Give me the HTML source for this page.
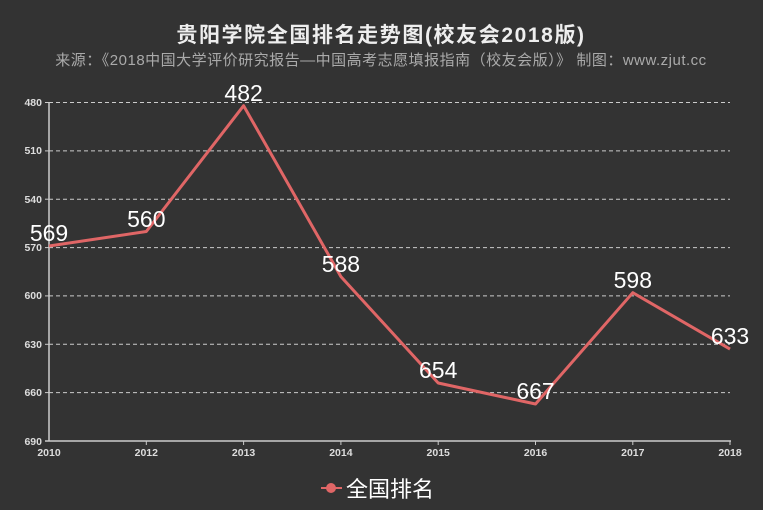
<!DOCTYPE html><html><head><meta charset="utf-8"><style>
body{margin:0;background:#fff}
svg{display:block}
text{font-family:"Liberation Sans","Noto Sans CJK SC",sans-serif}
</style></head><body>
<svg width="763" height="510" viewBox="0 0 763 510">
<rect x="0" y="0" width="763" height="510" fill="#333"/>
<text x="381" y="42" text-anchor="middle" font-size="21" font-weight="bold" fill="#eee" letter-spacing="1.6">贵阳学院全国排名走势图(校友会2018版)</text>
<text x="381" y="65" text-anchor="middle" font-size="15" fill="#aaa" letter-spacing="0.5">来源：《2018中国大学评价研究报告—中国高考志愿填报指南（校友会版）》 制图：www.zjut.cc</text>
<g stroke="#ccc" stroke-dasharray="4,3" stroke-width="1">
<line x1="49" x2="730" y1="102.5" y2="102.5"/>
<line x1="49" x2="730" y1="150.9" y2="150.9"/>
<line x1="49" x2="730" y1="199.2" y2="199.2"/>
<line x1="49" x2="730" y1="247.6" y2="247.6"/>
<line x1="49" x2="730" y1="295.9" y2="295.9"/>
<line x1="49" x2="730" y1="344.3" y2="344.3"/>
<line x1="49" x2="730" y1="392.6" y2="392.6"/>
</g>
<g stroke="#ccc" stroke-width="1.5">
<line x1="49" x2="49" y1="102" y2="441"/>
<line x1="45" x2="731" y1="441" y2="441"/>
</g>
<g stroke="#ccc" stroke-width="1">
<line x1="45" x2="49" y1="102.5" y2="102.5"/><line x1="45" x2="49" y1="150.9" y2="150.9"/><line x1="45" x2="49" y1="199.2" y2="199.2"/><line x1="45" x2="49" y1="247.6" y2="247.6"/><line x1="45" x2="49" y1="295.9" y2="295.9"/><line x1="45" x2="49" y1="344.3" y2="344.3"/><line x1="45" x2="49" y1="392.6" y2="392.6"/>
<line x1="146.3" x2="146.3" y1="441" y2="445"/><line x1="243.6" x2="243.6" y1="441" y2="445"/><line x1="340.9" x2="340.9" y1="441" y2="445"/><line x1="438.2" x2="438.2" y1="441" y2="445"/><line x1="535.5" x2="535.5" y1="441" y2="445"/><line x1="632.8" x2="632.8" y1="441" y2="445"/><line x1="730" x2="730" y1="441" y2="445"/>
</g>
<g font-size="10.5" font-weight="bold" fill="#ddd" text-anchor="end">
<text x="42" y="106">480</text><text x="42" y="154">510</text><text x="42" y="203">540</text><text x="42" y="251">570</text><text x="42" y="299">600</text><text x="42" y="348">630</text><text x="42" y="396">660</text><text x="42" y="445">690</text>
</g>
<g font-size="10.5" font-weight="bold" fill="#ddd" text-anchor="middle">
<text x="49" y="456">2010</text><text x="146.3" y="456">2012</text><text x="243.6" y="456">2013</text><text x="340.9" y="456">2014</text><text x="438.2" y="456">2015</text><text x="535.5" y="456">2016</text><text x="632.8" y="456">2017</text><text x="730" y="456">2018</text>
</g>
<polyline fill="none" stroke="#e06666" stroke-width="3" stroke-linejoin="round" points="49,246 146.3,231.5 243.6,105.7 340.9,276.6 438.2,383 535.5,404 632.8,292.7 730,349.1"/>
<g font-size="23" fill="#fff" text-anchor="middle">
<text x="49" y="241">569</text><text x="146.3" y="227">560</text><text x="243.6" y="101">482</text><text x="340.9" y="272">588</text><text x="438.2" y="378">654</text><text x="535.5" y="399">667</text><text x="632.8" y="288">598</text><text x="730" y="344">633</text>
</g>
<line x1="321" x2="342" y1="488" y2="488" stroke="#e06666" stroke-width="2"/>
<circle cx="331" cy="488" r="5" fill="#e06666"/>
<text x="346" y="497" font-size="22" fill="#fff">全国排名</text>
</svg>
</body></html>
